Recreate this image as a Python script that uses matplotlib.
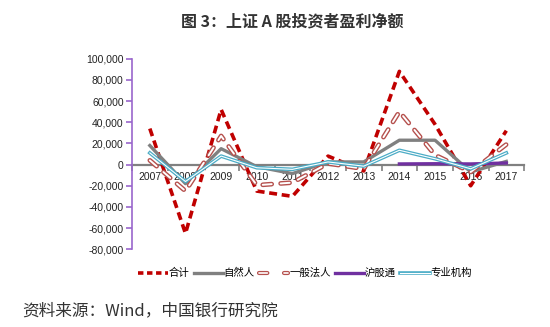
import matplotlib
matplotlib.use("Agg")
import matplotlib.pyplot as plt
import matplotlib.patheffects as pe
from matplotlib.lines import Line2D
import numpy as np

plt.rcParams['font.family'] = ['Liberation Sans', 'Noto Sans CJK SC', 'DejaVu Sans']

years = ['2007', '2008', '2009', '2010', '2011', '2012', '2013', '2014', '2015', '2016', '2017']
total = [34000, -65000, 52000, -25000, -30000, 8000, -6000, 88000, 38000, -20000, 32000]
natural = [18000, -18000, 15000, -2000, -8500, 2500, 2500, 23000, 23000, -7000, 3000]
corporate = [4000, -25000, 27000, -19500, -17000, 1000, -4000, 50000, 9000, -7000, 19000]
hk_connect = [np.nan] * 7 + [600, 800, 600, 1500]
institution = [11000, -16000, 8000, -3000, -4500, 2500, -1500, 13500, 5500, -4000, 11000]
series_names = ['合计', '自然人', '一般法人', '沪股通', '专业机构']
yticks = [-80000, -60000, -40000, -20000, 0, 20000, 40000, 60000, 80000, 100000]

fig = plt.figure(figsize=(5.5, 3.27), dpi=100)
ax = fig.add_axes([0.24, 0.2376, 0.713, 0.583])
x = np.arange(len(years))

ax.plot(x, total, color='#C00000', lw=2.6, linestyle=(0, (2.2, 1.3)), zorder=3)
ax.plot(x, natural, color='#808080', lw=2.4, zorder=3)
corp_fx = [pe.Stroke(linewidth=3.4, foreground='#B5504D'), pe.Stroke(linewidth=1.4, foreground='white')]
ax.plot(x, corporate, color='#B5504D', lw=3.4, linestyle=(0, (1.9, 1.9)),
        dash_capstyle='round', path_effects=corp_fx, zorder=3)
ax.plot(x, hk_connect, color='#7030A0', lw=2.4, zorder=3)
inst_fx = [pe.Stroke(linewidth=2.6, foreground='#4BACC6'), pe.Stroke(linewidth=0.8, foreground='white')]
ax.plot(x, institution, color='#4BACC6', lw=2.6, path_effects=inst_fx, zorder=3)

ax.set_xlim(-0.5, len(years) - 0.5)
ax.set_ylim(-80000, 100000)
ax.set_yticks(yticks)
ax.set_yticklabels([f'{v:,}' for v in yticks], fontsize=7.5, color='#222222')
ax.tick_params(axis='y', direction='out', length=4, color='#9966CC', width=1.2, pad=2)

ax.spines['top'].set_visible(False)
ax.spines['right'].set_visible(False)
ax.spines['left'].set_color('#9966CC')
ax.spines['left'].set_linewidth(1.2)
ax.spines['bottom'].set_position(('data', 0))
ax.spines['bottom'].set_color('#808080')
ax.spines['bottom'].set_linewidth(1.6)
ax.spines['bottom'].set_zorder(2)

ax.set_xticks(np.arange(-0.5, len(years), 1.0))
ax.set_xticklabels([])
ax.tick_params(axis='x', which='major', direction='out', length=4, color='#808080', width=1.2)
ax.set_xticks(x, minor=True)
ax.set_xticklabels(years, minor=True, fontsize=7.5, color='#222222')
ax.tick_params(axis='x', which='minor', length=0, pad=5)

handles = [
    Line2D([], [], color='#C00000', lw=2.6, linestyle=(0, (1.5, 1))),
    Line2D([], [], color='#808080', lw=2.4),
    Line2D([], [], color='#B5504D', lw=3.0, linestyle=(0, (2, 4)), dash_capstyle='round',
           path_effects=[pe.Stroke(linewidth=3.0, foreground='#B5504D'), pe.Stroke(linewidth=1.2, foreground='white')]),
    Line2D([], [], color='#7030A0', lw=2.4),
    Line2D([], [], color='#4BACC6', lw=2.6,
           path_effects=[pe.Stroke(linewidth=2.6, foreground='#4BACC6'), pe.Stroke(linewidth=0.8, foreground='white')]),
]
fig.legend(handles, series_names, loc='center', bbox_to_anchor=(0.555, 0.165), ncol=5,
           frameon=False, fontsize=7.5, handlelength=2.8, handletextpad=0.1, columnspacing=0.4)

fig.text(0.531, 0.933, '图 3：上证 A 股投资者盈利净额', ha='center', va='center',
         fontsize=11.5, fontweight='bold', color='#333333', family=['Noto Sans CJK SC', 'DejaVu Sans'])
fig.text(0.04, 0.049, '资料来源：Wind，中国银行研究院', ha='left', va='center',
         fontsize=12, color='#333333', family=['Noto Sans CJK SC', 'DejaVu Sans'])

fig.savefig('out.png', dpi=100)
